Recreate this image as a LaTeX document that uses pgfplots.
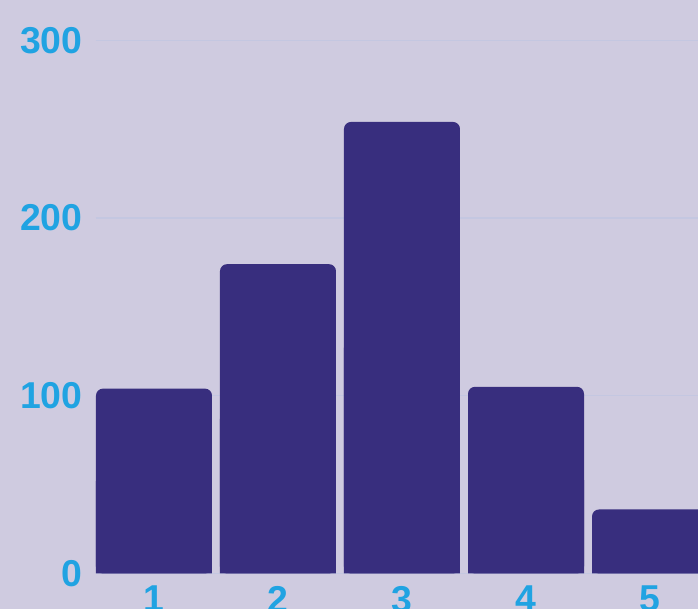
\documentclass[border=0pt]{standalone}
\usepackage{pgfplots}
\usepackage{pgfplotstable}
\pgfplotsset{compat=1.18}
\usepackage{fontspec}
\setmainfont{Liberation Sans}

\definecolor{bgc}{RGB}{207,203,224}
\definecolor{barc}{RGB}{56,46,126}
\definecolor{labc}{RGB}{32,163,226}
\definecolor{gridc}{RGB}{196,199,225}

\pgfplotstableread{
x y
1 104
2 174
3 254
4 105
5 36
}\datatable

\begin{document}
\begin{tikzpicture}
\path[use as bounding box, fill=bgc] (-48pt,-17.75pt) rectangle (301pt,286.75pt);
\begin{scope}
\clip (-48pt,-17.75pt) rectangle (301pt,286.75pt);
\begin{axis}[
    scale only axis,
    width=301pt, height=286.75pt,
    xmin=0.5323, xmax=5.387,
    ymin=0, ymax=322.6,
    axis line style={draw=none},
    major tick length=0pt,
    xtick={1,2,3,4,5},
    ytick={0,100,200,300},
    ymajorgrids,
    grid style={color=gridc, line width=0.6pt},
    /pgf/number format/assume math mode=true,
    tick label style={font=\fontsize{18.7}{18.7}\selectfont\bfseries, text=labc, inner sep=0pt},
    yticklabel style={anchor=east, xshift=-6.5pt},
    xticklabel style={anchor=north, yshift=-6pt},
]
\addplot[ybar, bar width=58pt, fill=barc, draw=none, rounded corners=3.5pt]
    table[x=x, y=y]{\datatable};
\addplot[ybar, bar width=58pt, fill=barc, draw=none]
    table[x=x, y expr=\thisrow{y}/2]{\datatable};
\end{axis}
\end{scope}
\end{tikzpicture}
\end{document}
